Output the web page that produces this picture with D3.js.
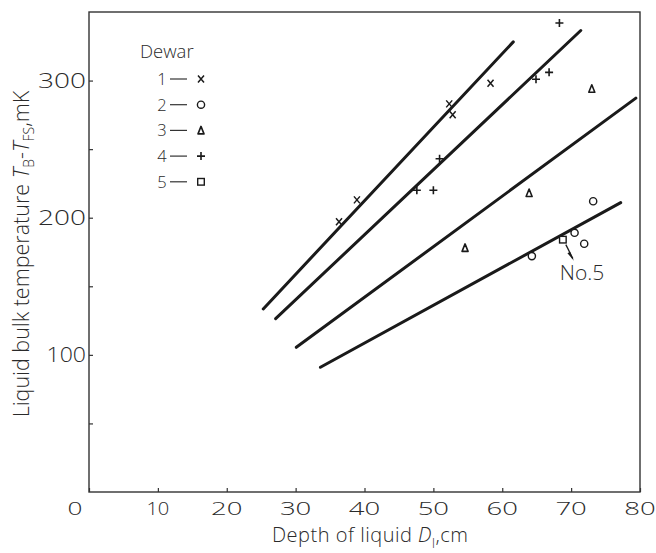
<!DOCTYPE html>
<html>
<head>
<meta charset="utf-8">
<script src="https://cdn.jsdelivr.net/npm/d3@7"></script>
<style>
  html, body { margin: 0; padding: 0; background: #fff; }
  svg { display: block; }
  text { font-family: "Open Sans", "DejaVu Sans", sans-serif; font-weight: 300; fill: #2a2a2a; }
</style>
</head>
<body>
<svg id="chart" width="656" height="553"></svg>
<script>
// Measured points for each dewar: [depth D_l (cm), T_B - T_FS (mK)]
const dewar1 = [[36.3, 197], [38.9, 213], [52.3, 283], [52.8, 275], [58.3, 298]];
const dewar2 = [[64.3, 172], [70.5, 189], [71.9, 181], [73.2, 212]];
const dewar3 = [[54.6, 178], [63.9, 218], [73.0, 294]];
const dewar4 = [[47.6, 220], [50.0, 220], [50.9, 243], [64.9, 301], [66.8, 306], [68.3, 342]];
const dewar5 = [[68.8, 184]];

// Fitted straight lines (end points in data units)
const fitLines = [
  [[25.3, 133.5], [61.6, 328.2]],
  [[27.1, 126.4], [71.4, 336.5]],
  [[30.1, 105.5], [79.4, 287.2]],
  [[33.6, 91.0], [77.2, 211.0]]
];

const legendIds = ["1", "2", "3", "4", "5"];
const markerKinds = ["cross", "circle", "triangle", "plus", "square"];
const xTicks = [0, 10, 20, 30, 40, 50, 60, 70, 80];
const yTicks = [50, 100, 150, 200, 250, 300];
const yLabelled = [100, 200, 300];

const svg = d3.select("#chart");
const ink = "#1a1a1a";
const margin = { left: 89, top: 12, right: 16, bottom: 61 };
const W = 656, H = 553;

const x = d3.scaleLinear().domain([0, 80]).range([margin.left, W - margin.right]);
const y = d3.scaleLinear().domain([0, 350]).range([H - margin.bottom, margin.top]);

// width of a number label with the wide, round digits of the plot lettering
function digitWidth(s) {
  let w = 0;
  for (const c of s) w += (c === "1") ? 6.5 : 15;
  return w + (s.length - 1) * 1.5;
}

// frame
svg.append("rect")
  .attr("x", x(0)).attr("y", y(350))
  .attr("width", x(80) - x(0)).attr("height", y(0) - y(350))
  .attr("fill", "none").attr("stroke", "#333").attr("stroke-width", 1.4);

// x axis: inward ticks
const xAxis = d3.axisBottom(x).tickValues(xTicks).tickSizeInner(-4).tickSizeOuter(0).tickFormat("");
const gx = svg.append("g").attr("transform", `translate(0,${y(0)})`).call(xAxis);
gx.select(".domain").remove();
gx.selectAll(".tick line").attr("stroke", "#333").attr("stroke-width", 1.2);
svg.append("g").selectAll("text").data(xTicks).join("text")
  .attr("x", d => x(d) + (d === 0 ? -14 : 0))
  .attr("y", y(0) + 23)
  .attr("text-anchor", "middle")
  .attr("font-size", 19)
  .attr("textLength", d => digitWidth(String(d)))
  .attr("lengthAdjust", "spacingAndGlyphs")
  .text(d => d);

// y axis: inward ticks
const yAxis = d3.axisLeft(y).tickValues(yTicks).tickSizeInner(-4).tickSizeOuter(0).tickFormat("");
const gy = svg.append("g").attr("transform", `translate(${x(0)},0)`).call(yAxis);
gy.select(".domain").remove();
gy.selectAll(".tick line").attr("stroke", "#333").attr("stroke-width", 1.2);
svg.append("g").selectAll("text").data(yLabelled).join("text")
  .attr("x", x(0) - 3)
  .attr("y", d => y(d) + 7)
  .attr("text-anchor", "end")
  .attr("font-size", 19.5)
  .attr("textLength", d => digitWidth(String(d)))
  .attr("lengthAdjust", "spacingAndGlyphs")
  .text(d => d);

// axis titles
const xt = svg.append("text")
  .attr("x", 370).attr("y", 542)
  .attr("text-anchor", "middle").attr("font-size", 20)
  .attr("textLength", 196).attr("lengthAdjust", "spacing");
xt.append("tspan").text("Depth of liquid ");
xt.append("tspan").attr("font-style", "italic").text("D");
xt.append("tspan").attr("font-size", 13).attr("dy", 6).text("l");
xt.append("tspan").attr("dy", -6).text(",cm");

const yt = svg.append("text")
  .attr("transform", `translate(29,254) rotate(-90)`)
  .attr("text-anchor", "middle").attr("font-size", 21.5);
yt.append("tspan").text("Liquid bulk temperature ");
yt.append("tspan").attr("font-style", "italic").text("T");
yt.append("tspan").attr("font-size", 14).attr("dy", 5).text("B");
yt.append("tspan").attr("dy", -5).text("-");
yt.append("tspan").attr("font-style", "italic").text("T");
yt.append("tspan").attr("font-size", 14).attr("dy", 5).text("FS");
yt.append("tspan").attr("dy", -5).text(",mK");

// fitted lines
const line = d3.line().x(d => x(d[0])).y(d => y(d[1]));
svg.append("g").selectAll("path").data(fitLines).join("path")
  .attr("d", line)
  .attr("fill", "none").attr("stroke", ink).attr("stroke-width", 3).attr("stroke-linecap", "round");

// marker drawing
function drawMarker(g, kind) {
  if (kind === "cross") {
    g.append("path").attr("d", "M-3,-3.5L3,3.5M3,-3.5L-3,3.5")
      .attr("stroke", ink).attr("stroke-width", 1.5).attr("fill", "none");
  } else if (kind === "circle") {
    g.append("circle").attr("r", 3.6)
      .attr("stroke", ink).attr("stroke-width", 1.4).attr("fill", "#fff");
  } else if (kind === "triangle") {
    g.append("path").attr("d", "M0,-4L3,3.5L-3,3.5Z")
      .attr("stroke", ink).attr("stroke-width", 1.6).attr("fill", "#fff").attr("stroke-linejoin", "round");
  } else if (kind === "plus") {
    g.append("path").attr("d", "M-4,0L4,0M0,-4L0,4")
      .attr("stroke", ink).attr("stroke-width", 1.6).attr("fill", "none");
  } else if (kind === "square") {
    g.append("rect").attr("x", -3.3).attr("y", -3.3).attr("width", 6.6).attr("height", 6.6)
      .attr("stroke", ink).attr("stroke-width", 1.4).attr("fill", "#fff");
  }
}

const series = [dewar1, dewar2, dewar3, dewar4, dewar5];
series.forEach((pts, i) => {
  svg.append("g").selectAll("g").data(pts).join("g")
    .attr("transform", d => `translate(${x(d[0])},${y(d[1])})`)
    .each(function () { drawMarker(d3.select(this), markerKinds[i]); });
});

// annotation for dewar 5
const p5 = dewar5[0];
const ax = x(p5[0]), ay = y(p5[1]);
svg.append("path")
  .attr("d", `M${ax + 3},${ay + 5}L${ax + 10},${ay + 19}`)
  .attr("stroke", ink).attr("stroke-width", 1.3).attr("fill", "none");
svg.append("path")
  .attr("d", `M${ax + 7.2},${ay + 12}L${ax + 11},${ay + 21}L${ax + 4.6},${ay + 13.6}Z`)
  .attr("fill", ink);
svg.append("text")
  .attr("x", ax - 3).attr("y", ay + 40)
  .attr("font-size", 21)
  .text("No.5");

// legend
const lg = svg.append("g");
lg.append("text").attr("x", 140).attr("y", 58).attr("font-size", 18.5).text("Dewar");
legendIds.forEach((id, i) => {
  const cy = 79 + i * 25.7;
  lg.append("text").attr("x", 162).attr("y", cy + 6).attr("text-anchor", "middle")
    .attr("font-size", 16.5).text(id);
  lg.append("line").attr("x1", 170).attr("x2", 187).attr("y1", cy).attr("y2", cy)
    .attr("stroke", "#333").attr("stroke-width", 1.2);
  drawMarker(lg.append("g").attr("transform", `translate(201,${cy})`), markerKinds[i]);
});
</script>
</body>
</html>
